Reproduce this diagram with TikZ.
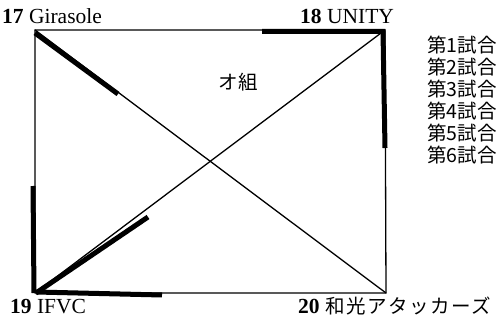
\documentclass[tikz,border=0pt]{standalone}
\usepackage{fontspec}
\setmainfont{Liberation Serif}
\newfontfamily\cjk{Noto Sans CJK JP}
\newfontfamily\cjkwide[LetterSpace=8]{Noto Sans CJK JP}
\begin{document}
\begin{tikzpicture}[x=1pt,y=-1pt,
  thin line/.style={line width=1.3pt},
  thick line/.style={line width=5pt},
  team/.style={inner sep=0pt,anchor=base west,font=\fontsize{21.5}{24}\selectfont},
  match/.style={inner sep=0pt,anchor=base west,font=\cjk\fontsize{19.5}{22}\selectfont}]
\useasboundingbox (0,0) rectangle (498,320);
\coordinate (A) at (35,30);
\coordinate (B) at (385,30);
\coordinate (C) at (35,293);
\coordinate (D) at (386,293);
% thin connectors
\draw[thin line] (A) -- (B) -- (D) -- (C) -- cycle;
\draw[thin line] (A) -- (D);
\draw[thin line] (B) -- (C);
% thick segments
\coordinate (t1) at (262,31.5);
\coordinate (t2) at (385,148);
\coordinate (t3) at (118,94);
\coordinate (t4) at (33,186);
\coordinate (t5) at (148,217);
\coordinate (t6) at (162,295);
\draw[thick line] (t1) -- (383,31.5) -- (t2);
\draw[thick line] (35,33) -- (t3);
\draw[thick line] (t4) -- (34,293);
\draw[thick line] (36,293) -- (t5);
\draw[thick line] (36,292) -- (t6);
% labels
\node[team] (l17) at (2,24) {\textbf{17} Girasole};
\node[team] (l18) at (300,24) {\textbf{18} UNITY};
\node[team] (l19) at (10,314) {\textbf{19} IFVC};
\node[team] (l20) at (298,314) {\textbf{20} {\cjkwide\fontsize{19.5}{22}\selectfont 和光アタッカーズ}};
\node[match,anchor=center] (grp) at (238,82) {オ組};
\node[match] (m1) at (427,53) {第1試合};
\node[match] (m2) at (427,75) {第2試合};
\node[match] (m3) at (427,97) {第3試合};
\node[match] (m4) at (427,119) {第4試合};
\node[match] (m5) at (427,141) {第5試合};
\node[match] (m6) at (427,163) {第6試合};
\end{tikzpicture}
\end{document}
